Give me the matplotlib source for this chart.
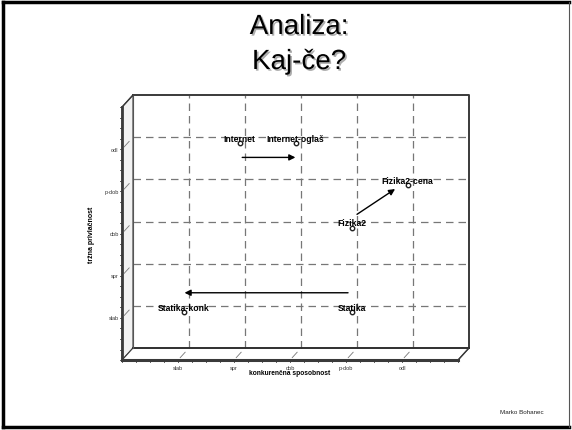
import numpy as np
import matplotlib
matplotlib.use("Agg")
import matplotlib.pyplot as plt
from matplotlib.patches import Polygon
from matplotlib.lines import Line2D
import matplotlib.patheffects as pe

plt.rcParams['font.family'] = ['Liberation Sans', 'DejaVu Sans']

''' Data '''
categories = ["slab", "spr", "dob", "p-dob", "odl"]
names = ["Internet", "Internet-oglaš", "Fizika2", "Fizika2-cena", "Statika", "Statika-konk"]
xv = [2, 3, 4, 5, 4, 1]
yv = [5, 5, 3, 4, 1, 1]
# arrows: x0, y0, x1, y1 (back-plane data units)
arr_x0 = [1.95, 4.00, 3.84]
arr_y0 = [4.52, 3.17, 1.31]
arr_x1 = [2.90, 4.68, 0.92]
arr_y1 = [4.52, 3.77, 1.31]

''' 3D box settings '''
dx, dy = -0.196, -0.286
edge = '#3a3a3a'

fig = plt.figure(figsize=(5.72, 4.31), dpi=100)
ax = fig.add_axes([133/572, 82/431, 336/572, 253/431])
ax.set_xlim(0, 6)
ax.set_ylim(0, 6)
ax.axis('off')

# left wall and floor
wall = Polygon([(0, 0), (0, 6), (dx, 6+dy), (dx, dy)], closed=True,
               facecolor='#f2f2f2', edgecolor=edge, lw=0.8, clip_on=False, zorder=1)
floor = Polygon([(0, 0), (6, 0), (6+dx, dy), (dx, dy)], closed=True,
                facecolor='white', edgecolor=edge, lw=0.8, clip_on=False, zorder=1)
ax.add_patch(wall)
ax.add_patch(floor)

# grid on back plane
for k in range(1, 6):
    ax.plot([k, k], [0, 6], ls=(0, (6, 4)), color='#777777', lw=0.9, zorder=2, clip_on=False)
    ax.plot([0, 6], [k, k], ls=(0, (6, 4)), color='#777777', lw=0.9, zorder=2, clip_on=False)

# back plane frame
ax.plot([0, 6, 6], [6, 6, 0], color=edge, lw=1.4, zorder=3, clip_on=False)
ax.plot([0, 6], [0, 0], color='#222222', lw=1.2, zorder=3, clip_on=False)
ax.plot([0, 0], [0, 6], color='#555555', lw=0.8, zorder=3, clip_on=False)

# front edges
ax.plot([dx, dx], [dy, 6+dy], color=edge, lw=2.0, zorder=4, clip_on=False)
ax.plot([dx, 6+dx], [dy, dy], color=edge, lw=2.2, zorder=4, clip_on=False)
ax.plot([6+dx, 6], [dy, 0], color=edge, lw=1.0, zorder=4, clip_on=False)
ax.plot([dx, 0], [6+dy, 6], color=edge, lw=1.0, zorder=4, clip_on=False)

# small ticks on the front axes
for t in np.arange(0, 6.01, 0.25):
    ax.plot([dx - 0.04, dx], [t+dy, t+dy], color=edge, lw=0.6, clip_on=False, zorder=4)
    ax.plot([t+dx, t+dx], [dy - 0.05, dy], color=edge, lw=0.6, clip_on=False, zorder=4)

# diagonal category ticks + labels
for k, lab in enumerate(categories, start=1):
    ax.plot([k+dx*0.8, k+dx*0.35], [dy*0.8, dy*0.35], color='#777777', lw=0.6, clip_on=False, zorder=4)
    ax.plot([dx*0.8, dx*0.35], [k+dy*0.8, k+dy*0.35], color='#777777', lw=0.6, clip_on=False, zorder=4)
    ax.text(k+dx, dy - 0.17, lab, ha='center', va='center', fontsize=4, color='#333333', clip_on=False)
    ax.text(dx - 0.06, k+dy, lab, ha='right', va='center', fontsize=4, color='#333333', clip_on=False)

ax.text(3+dx, dy - 0.30, "konkurenčna sposobnost", ha='center', va='center',
        fontsize=4.8, fontweight='bold', clip_on=False)
ax.text(dx - 0.55, 3+dy, "tržna privlačnost", ha='center', va='center', rotation=90,
        fontsize=5, fontweight='bold', clip_on=False)

# points at mid depth
px = np.array(xv) + dx/2
py = np.array(yv) + dy/2
ax.plot(px, py, 'o', ms=3.2, mfc='white', mec='#222222', mew=1.0, ls='none', zorder=6, clip_on=False)
for name, x, y in zip(names, px, py):
    ax.annotate(name, (x, y), xytext=(0, 3.4), textcoords='offset points', ha='center', va='center',
                fontsize=6.2, fontweight='bold', zorder=7)

# arrows
for x0, y0, x1, y1 in zip(arr_x0, arr_y0, arr_x1, arr_y1):
    ax.annotate("", xy=(x1, y1), xytext=(x0, y0),
                arrowprops=dict(arrowstyle='-|>', color='black', lw=1.0,
                                mutation_scale=9, shrinkA=0, shrinkB=0), zorder=5)

# slide title
shadow = [pe.SimplePatchShadow(offset=(1.2, -1.2), shadow_rgbFace='#999999', alpha=0.8), pe.Normal()]
fig.text(299/572, 1 - 28/431, "Analiza:", ha='center', va='center', fontsize=20,
         path_effects=shadow)
fig.text(299/572, 1 - 63/431, "Kaj-če?", ha='center', va='center', fontsize=20,
         path_effects=shadow)

fig.text(522/572, 1 - 413/431, "Marko Bohanec", ha='center', va='center', fontsize=4.5, color='#222222')

# slide border
fig.add_artist(Line2D([3/572, 3/572], [3/431, 1 - 3/431], color='black', lw=2.5, transform=fig.transFigure))
fig.add_artist(Line2D([3/572, 569/572], [1 - 3/431, 1 - 3/431], color='black', lw=2.5, transform=fig.transFigure))
fig.add_artist(Line2D([3/572, 569/572], [3/431, 3/431], color='black', lw=2.5, transform=fig.transFigure))
fig.add_artist(Line2D([569/572, 569/572], [3/431, 1 - 3/431], color='#555555', lw=0.8, transform=fig.transFigure))

fig.savefig("out.png", dpi=100)
